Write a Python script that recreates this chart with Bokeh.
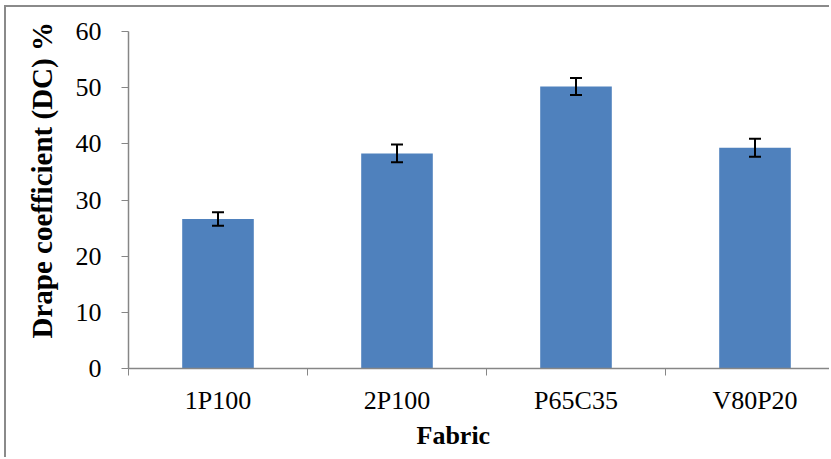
from bokeh.plotting import figure
from bokeh.models import ColumnDataSource, Range1d, FixedTicker, Whisker, TeeHead, Title
from bokeh.embed import file_html
from bokeh.resources import INLINE

categories = ["1P100", "2P100", "P65C35", "V80P20"]
dc_mean = [26.6, 38.3, 50.2, 39.3]
dc_err = [1.2, 1.6, 1.5, 1.6]
y_ticks = [0, 10, 20, 30, 40, 50, 60]

xc = [i + 0.5 for i in range(len(categories))]
src = ColumnDataSource(dict(
    x=xc, top=dc_mean,
    upper=[m + e for m, e in zip(dc_mean, dc_err)],
    lower=[m - e for m, e in zip(dc_mean, dc_err)],
))

FONT = "Liberation Serif"
AXC = "#868686"

p = figure(width=825, height=452, output_backend="svg", toolbar_location=None,
           x_range=Range1d(0, (831 - 128) / 179.0), y_range=Range1d(0, 60),
           min_border_left=122, min_border_top=24, min_border_bottom=91, min_border_right=0)
p.styles = {"border-left": "2px solid #8a8a8a", "border-top": "2px solid #8a8a8a",
            "margin-left": "4px", "margin-top": "5px"}
p.outline_line_color = None
p.grid.visible = False

p.vbar(x="x", top="top", width=0.4, bottom=0, source=src,
       fill_color="#4F81BD", line_color=None)
w = Whisker(base="x", upper="upper", lower="lower", source=src,
            line_color="black", line_width=2, level="overlay",
            upper_head=TeeHead(size=12, line_color="black", line_width=2),
            lower_head=TeeHead(size=12, line_color="black", line_width=2))
p.add_layout(w)

xa = p.xaxis[0]
xa.ticker = FixedTicker(ticks=xc, minor_ticks=list(range(len(categories) + 1)))
xa.major_label_overrides = {v: c for v, c in zip(xc, categories)}
xa.major_tick_out = 0
xa.major_tick_in = 0
xa.minor_tick_out = 7
xa.minor_tick_in = 0
xa.minor_tick_line_color = AXC
xa.axis_line_color = AXC
xa.axis_line_width = 1.5
xa.major_label_standoff = 10
xa.major_label_text_font = FONT
xa.major_label_text_font_size = "26px"
xa.major_label_text_color = "black"

ya = p.yaxis[0]
ya.ticker = FixedTicker(ticks=y_ticks)
ya.major_tick_out = 7
ya.major_tick_in = 0
ya.minor_tick_out = 0
ya.minor_tick_in = 0
ya.major_tick_line_color = AXC
ya.axis_line_color = AXC
ya.axis_line_width = 1.5
ya.major_label_standoff = 20
ya.major_label_text_font = FONT
ya.major_label_text_font_size = "26px"
ya.major_label_text_color = "black"

xt = Title(text="Fabric", align="left", offset=288, standoff=3,
           text_font=FONT, text_font_size="26px", text_font_style="bold",
           text_color="black")
p.add_layout(xt, "below")
yt = Title(text="Drape coefficient (DC) %", align="left", offset=30, standoff=29,
           text_font=FONT, text_font_size="29px", text_font_style="bold",
           text_color="black")
p.add_layout(yt, "left")

open("out.html", "w").write(file_html(p, INLINE))
